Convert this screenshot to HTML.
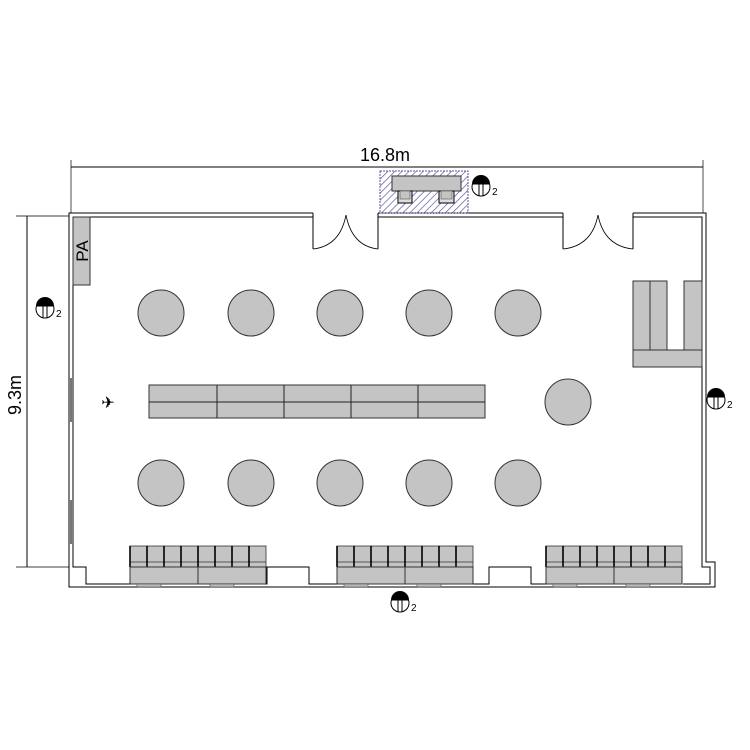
<!DOCTYPE html>
<html><head><meta charset="utf-8"><style>html,body{margin:0;padding:0;background:#fff}svg{display:block}</style></head>
<body>
<svg width="750" height="750" viewBox="0 0 750 750" xmlns="http://www.w3.org/2000/svg" font-family="Liberation Sans, sans-serif">
<defs>
<pattern id="h" width="5" height="5" patternUnits="userSpaceOnUse" patternTransform="rotate(45)">
<line x1="0" y1="0" x2="0" y2="5" stroke="#5a5aa0" stroke-width="1.4"/>
</pattern>
<g id="cam">
<circle r="9" fill="#fff" stroke="#000" stroke-width="1"/>
<path d="M-9,0 A9,9 0 0 1 9,0 Z" fill="#000" transform="translate(0,-3)"/>
<path d="M-8,-3 L8,-3" stroke="#000"/>
<line x1="-2" y1="-3" x2="-2" y2="9" stroke="#000"/>
<line x1="2" y1="-3" x2="2" y2="9" stroke="#000"/>
</g>
<g id="chair">
<rect x="0" y="0" width="17" height="21" fill="#c4c4c4" stroke="#333" stroke-width="0.8"/>
<line x1="0" y1="16" x2="17" y2="16" stroke="#333" stroke-width="0.8"/>
<line x1="0" y1="0" x2="0" y2="21" stroke="#000" stroke-width="1.6"/>
</g>
</defs>

<line x1="71" y1="167" x2="703" y2="167" stroke="#000"/>
<line x1="71" y1="160" x2="71" y2="213" stroke="#000" stroke-width="0.7"/>
<line x1="703" y1="160" x2="703" y2="213" stroke="#000" stroke-width="0.7"/>
<text x="385" y="161" font-size="18" text-anchor="middle">16.8m</text>
<line x1="27" y1="216" x2="27" y2="567" stroke="#000"/>
<line x1="16" y1="216" x2="69" y2="216" stroke="#000" stroke-width="0.7"/>
<line x1="16" y1="567" x2="69" y2="567" stroke="#000" stroke-width="0.7"/>
<text transform="translate(21,395) rotate(-90)" font-size="18" text-anchor="middle">9.3m</text>

<g fill="none" stroke="#000" stroke-width="1">
<path d="M313,213 L69,213 L69,587 L715,587 L715,562 L706,562 L706,213 L633,213"/>
<path d="M313,217 L73,217 L73,567 L86,567 L86,584 L130,584"/>
<path d="M633,217 L702,217 L702,567 L710,567 L710,584 L683,584"/>
<path d="M266,584 L267,584 L267,567 L309,567 L309,584 L337,584"/>
<path d="M472,584 L489,584 L489,567 L531,567 L531,584 L546,584"/>
<path d="M378,213 L563,213 M378,217 L563,217"/>
<path d="M313,213 L313,249 M378,213 L378,249 M563,213 L563,249 M633,213 L633,249"/>
<path d="M313,249 Q340,246 346,215 M378,249 Q352,246 346,215" stroke-width="0.8"/>
<path d="M563,249 Q592,246 598,215 M633,249 Q604,246 598,215" stroke-width="0.8"/>
</g>
<rect x="70" y="378" width="2" height="44" fill="#777"/>
<rect x="70" y="500" width="2" height="44" fill="#777"/>

<rect x="380" y="171" width="88" height="42" fill="url(#h)" stroke="#5a5aa0" stroke-dasharray="2,1"/>
<rect x="392" y="176" width="69" height="15" fill="#c4c4c4" stroke="#333"/>
<rect x="398" y="191" width="14" height="12" fill="#ddd" stroke="#000"/>
<rect x="400" y="191" width="10" height="8" fill="#c4c4c4" stroke="#555" stroke-width="0.6"/>
<rect x="439" y="191" width="15" height="12" fill="#ddd" stroke="#000"/>
<rect x="441" y="191" width="11" height="8" fill="#c4c4c4" stroke="#555" stroke-width="0.6"/>

<rect x="73" y="217" width="17" height="68" fill="#c4c4c4" stroke="#333"/>
<text transform="translate(88,251) rotate(-90)" font-size="17" text-anchor="middle">PA</text>

<g fill="#c4c4c4" stroke="#333">
<circle cx="161" cy="313" r="23"/><circle cx="251" cy="313" r="23"/><circle cx="340" cy="313" r="23"/><circle cx="429" cy="313" r="23"/><circle cx="518" cy="313" r="23"/>
<circle cx="161" cy="483" r="23"/><circle cx="251" cy="483" r="23"/><circle cx="340" cy="483" r="23"/><circle cx="429" cy="483" r="23"/><circle cx="518" cy="483" r="23"/>
<circle cx="568" cy="402" r="23"/>
</g>

<rect x="149" y="385" width="336" height="33" fill="#c4c4c4" stroke="#333"/>
<g stroke="#222"><line x1="149" y1="402" x2="485" y2="402"/><line x1="217" y1="385" x2="217" y2="418"/><line x1="284" y1="385" x2="284" y2="418"/><line x1="351" y1="385" x2="351" y2="418"/><line x1="418" y1="385" x2="418" y2="418"/></g>

<g fill="#c4c4c4" stroke="#333">
<rect x="633" y="281" width="17" height="69"/><rect x="650" y="281" width="17" height="69"/><rect x="684" y="281" width="18" height="69"/>
<rect x="633" y="350" width="69" height="17"/>
</g>

<text x="108" y="408" font-size="16" text-anchor="middle">✈</text>

<g id="grp">
<use href="#chair" x="130" y="546"/><use href="#chair" x="147" y="546"/><use href="#chair" x="164" y="546"/><use href="#chair" x="181" y="546"/>
<use href="#chair" x="198" y="546"/><use href="#chair" x="215" y="546"/><use href="#chair" x="232" y="546"/><use href="#chair" x="249" y="546"/>
<rect x="130" y="567" width="68" height="17" fill="#c4c4c4" stroke="#333"/>
<rect x="198" y="567" width="68" height="17" fill="#c4c4c4" stroke="#333"/>
<rect x="137" y="584" width="24" height="3" fill="#bbb" stroke="#333" stroke-width="0.5"/>
<rect x="210" y="584" width="24" height="3" fill="#bbb" stroke="#333" stroke-width="0.5"/>
</g>
<use href="#grp" x="207" y="0"/>
<use href="#grp" x="416" y="0"/>

<use href="#cam" x="481" y="187"/><text x="492" y="195" font-size="10">2</text>
<use href="#cam" x="45" y="309"/><text x="56" y="317" font-size="10">2</text>
<use href="#cam" x="716" y="400"/><text x="727" y="408" font-size="10">2</text>
<use href="#cam" x="400" y="603"/><text x="411" y="611" font-size="10">2</text>
</svg>
</body></html>
